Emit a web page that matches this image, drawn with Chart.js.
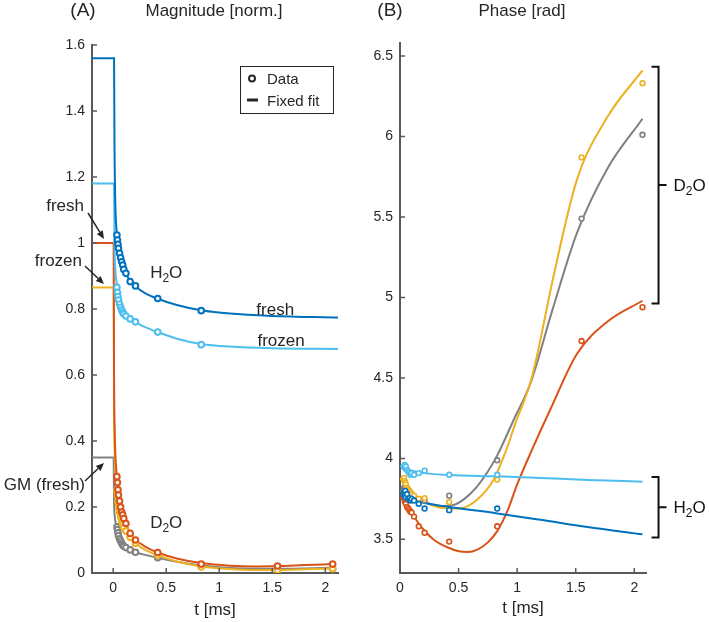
<!DOCTYPE html>
<html>
<head>
<meta charset="utf-8">
<script src="https://cdn.jsdelivr.net/npm/chart.js@4/dist/chart.umd.min.js"></script>
<style>
body { margin: 0; background: #fff; }
#wrap { position: relative; width: 709px; height: 622px; }
canvas { position: absolute; top: 0; }
</style>
</head>
<body>
<div id="wrap">
  <canvas id="magChart" width="355" height="622" style="left:0"></canvas>
  <canvas id="phaseChart" width="354" height="622" style="left:355px"></canvas>
</div>
<script>
// tick labels
const magTicks = [0, 0.2, 0.4, 0.6, 0.8, 1, 1.2, 1.4, 1.6];
const phaseTicks = [3.5, 4, 4.5, 5, 5.5, 6, 6.5];
const timeTicks = [0, 0.5, 1, 1.5, 2];

// measurement times [ms] (H2O data stops at 0.83)
const tData = [0.035, 0.04, 0.045, 0.05, 0.06, 0.07, 0.08, 0.09, 0.1, 0.12, 0.16, 0.21, 0.42, 0.83, 1.55, 2.07];

// magnitude data
const magFreshH2O  = [1.024, 1.009, 0.996, 0.984, 0.969, 0.955, 0.943, 0.933, 0.920, 0.908, 0.883, 0.870, 0.832, 0.795];
const magFrozenH2O = [0.866, 0.850, 0.838, 0.827, 0.815, 0.805, 0.797, 0.790, 0.785, 0.779, 0.770, 0.761, 0.730, 0.692];
const magFreshD2O  = [0.292, 0.274, 0.252, 0.236, 0.218, 0.200, 0.185, 0.176, 0.165, 0.150, 0.120, 0.100, 0.062, 0.027, 0.021, 0.027];
const magFrozenD2O = [0.250, 0.235, 0.215, 0.200, 0.185, 0.170, 0.158, 0.148, 0.138, 0.127, 0.108, 0.090, 0.054, 0.018, 0.008, 0.013];
const magGM        = [0.140, 0.132, 0.122, 0.113, 0.104, 0.097, 0.090, 0.085, 0.081, 0.077, 0.070, 0.063, 0.046, 0.022, 0.013, 0.013];

// magnitude fits (step before t=0)
const fitH2OT = [-0.2, 0.008, 0.012, 0.02, 0.03, 0.04, 0.05, 0.065, 0.085, 0.105, 0.13, 0.16, 0.21, 0.3, 0.42, 0.6, 0.83, 1.1, 1.5, 2.12];
const fitMagFreshH2O  = [1.56, 1.56, 1.3, 1.12, 1.045, 1.015, 0.993, 0.967, 0.943, 0.922, 0.902, 0.884, 0.868, 0.848, 0.831, 0.812, 0.796, 0.786, 0.779, 0.774];
const fitMagFrozenH2O = [1.18, 1.18, 1.0, 0.92, 0.885, 0.862, 0.842, 0.82, 0.8, 0.788, 0.778, 0.769, 0.760, 0.745, 0.730, 0.710, 0.694, 0.686, 0.681, 0.679];
const fitD2OT = [-0.2, 0.004, 0.008, 0.015, 0.025, 0.035, 0.045, 0.06, 0.08, 0.1, 0.13, 0.16, 0.21, 0.3, 0.42, 0.6, 0.83, 1.1, 1.35, 1.55, 1.8, 2.07];
const fitMagFreshD2O  = [1.0, 1.0, 0.6, 0.42, 0.33, 0.295, 0.272, 0.235, 0.192, 0.168, 0.142, 0.122, 0.101, 0.08, 0.062, 0.044, 0.03, 0.022, 0.02, 0.021, 0.024, 0.027];
const fitMagFrozenD2O = [0.865, 0.865, 0.5, 0.35, 0.28, 0.255, 0.233, 0.2, 0.165, 0.142, 0.121, 0.107, 0.09, 0.07, 0.054, 0.035, 0.02, 0.012, 0.009, 0.009, 0.011, 0.014];
const fitMagGM        = [0.35, 0.35, 0.22, 0.17, 0.15, 0.14, 0.13, 0.113, 0.097, 0.086, 0.077, 0.07, 0.063, 0.055, 0.046, 0.034, 0.023, 0.015, 0.013, 0.013, 0.014, 0.016];

// phase data
const phFreshH2O  = [3.79, 3.77, 3.80, 3.76, 3.78, 3.75, 3.755, 3.74, 3.75, 3.74, 3.72, 3.69, 3.68, 3.69];
const phFrozenH2O = [3.95, 3.96, 3.94, 3.95, 3.93, 3.92, 3.91, 3.90, 3.91, 3.90, 3.91, 3.925, 3.90, 3.90];
const phFreshD2O  = [3.76, 3.74, 3.73, 3.72, 3.70, 3.69, 3.68, 3.67, 3.665, 3.64, 3.58, 3.54, 3.485, 3.58, 4.73, 4.94];
const phFrozenD2O = [3.88, 3.86, 3.85, 3.84, 3.82, 3.81, 3.80, 3.79, 3.78, 3.77, 3.75, 3.755, 3.73, 3.87, 5.87, 6.33];
const phGM        = [3.82, 3.81, 3.80, 3.80, 3.79, 3.78, 3.78, 3.77, 3.77, 3.76, 3.75, 3.74, 3.77, 3.99, 5.49, 6.01];

// phase fits
const fitPhH2OT = [0, 0.1, 0.21, 0.42, 0.83, 1.2, 1.6, 2.07];
const fitPhFreshH2O  = [3.77, 3.745, 3.725, 3.70, 3.66, 3.62, 3.575, 3.53];
const fitPhFrozenH2O = [3.955, 3.925, 3.91, 3.898, 3.89, 3.88, 3.868, 3.857];
const fitPhRedT = [0, 0.1, 0.2, 0.3, 0.42, 0.5, 0.58, 0.66, 0.75, 0.83, 0.92, 1.0, 1.13, 1.28, 1.51, 1.77, 2.07];
const fitPhFreshD2O = [3.77, 3.66, 3.56, 3.49, 3.445, 3.425, 3.42, 3.435, 3.48, 3.55, 3.68, 3.84, 4.06, 4.3, 4.65, 4.85, 4.98];
const fitPhYellowT = [0, 0.1, 0.21, 0.35, 0.5, 0.65, 0.8, 0.9, 1.0, 1.06, 1.12, 1.17, 1.31, 1.51, 1.77, 2.07];
const fitPhFrozenD2O = [3.88, 3.78, 3.73, 3.695, 3.69, 3.74, 3.87, 4.04, 4.25, 4.36, 4.49, 4.64, 5.13, 5.73, 6.12, 6.41];
const fitPhGrayT = [0, 0.1, 0.21, 0.35, 0.45, 0.55, 0.65, 0.75, 0.83, 0.97, 1.115, 1.3, 1.51, 1.77, 2.07];
const fitPhGM = [3.80, 3.765, 3.73, 3.705, 3.71, 3.75, 3.82, 3.92, 4.02, 4.24, 4.47, 4.92, 5.40, 5.80, 6.11];

const BLUE = '#0072BD', LIGHT = '#4DBEEE', RED = '#D95319', YELLOW = '#EDB120', GRAY = '#808080';
const AXIS = '#595959', TEXT = '#262626';
const FONT = '"Liberation Sans", Arial, sans-serif';

Chart.defaults.font.family = FONT;

function pairs(xs, ys) {
    return ys.map((y, i) => ({ x: xs[i], y: y }));
}

function dots(label, ys, color, r, bw) {
    return {
        label: label,
        data: pairs(tData, ys),
        showLine: false,
        borderColor: color,
        backgroundColor: '#fff',
        pointRadius: r,
        pointBorderWidth: bw,
        pointHoverRadius: r
    };
}

function fit(label, xs, ys, color) {
    return {
        label: label,
        data: pairs(xs, ys),
        borderColor: color,
        borderWidth: 2,
        pointRadius: 0,
        fill: false,
        cubicInterpolationMode: 'monotone'
    };
}

function scaleOpts(min, max, ticks, size) {
    return {
        type: 'linear',
        min: min,
        max: max,
        grid: { display: false, drawTicks: false },
        border: { display: true, color: AXIS, width: 2 },
        ticks: { color: TEXT, font: { size: 14 }, padding: 7, callback: v => String(v) },
        afterBuildTicks: s => { s.ticks = ticks.map(v => ({ value: v })); },
        afterFit: s => { if (s.isHorizontal()) s.height = size; else s.width = size; }
    };
}

function inwardTicks(ctx, x, y, xt, yt) {
    ctx.strokeStyle = AXIS;
    ctx.lineWidth = 1.5;
    ctx.beginPath();
    xt.forEach(v => {
        const px = x.getPixelForValue(v);
        ctx.moveTo(px, y.bottom);
        ctx.lineTo(px, y.bottom - 5);
    });
    yt.forEach(v => {
        const py = y.getPixelForValue(v);
        ctx.moveTo(x.left, py);
        ctx.lineTo(x.left + 5, py);
    });
    ctx.stroke();
}

// text like H2O with a subscript digit
function chem(ctx, a, sub, b, x, y, align) {
    const big = '17px ' + FONT, small = '12px ' + FONT;
    ctx.font = big;
    const wa = ctx.measureText(a).width, wb = ctx.measureText(b).width;
    ctx.font = small;
    const ws = ctx.measureText(sub).width;
    const x0 = align === 'center' ? x - (wa + ws + wb) / 2 : x;
    ctx.textAlign = 'left';
    ctx.textBaseline = 'alphabetic';
    ctx.font = big;
    ctx.fillText(a, x0, y);
    ctx.font = small;
    ctx.fillText(sub, x0 + wa, y + 4);
    ctx.font = big;
    ctx.fillText(b, x0 + wa + ws, y);
}

function arrow(ctx, x1, y1, x2, y2) {
    const a = Math.atan2(y2 - y1, x2 - x1), L = 8, W = 3.5;
    const c = Math.cos(a), s = Math.sin(a);
    ctx.lineWidth = 1.5;
    ctx.beginPath();
    ctx.moveTo(x1, y1);
    ctx.lineTo(x2 - L * c, y2 - L * s);
    ctx.stroke();
    ctx.beginPath();
    ctx.moveTo(x2, y2);
    ctx.lineTo(x2 - L * c + W * s, y2 - L * s - W * c);
    ctx.lineTo(x2 - L * c - W * s, y2 - L * s + W * c);
    ctx.closePath();
    ctx.fill();
}

const magNotes = {
    id: 'magNotes',
    afterDraw(chart) {
        const { ctx, scales: { x, y } } = chart;
        ctx.save();
        inwardTicks(ctx, x, y, timeTicks, magTicks);

        ctx.fillStyle = TEXT;
        ctx.strokeStyle = TEXT;
        ctx.textBaseline = 'alphabetic';
        ctx.textAlign = 'center';
        ctx.font = '19px ' + FONT;
        ctx.fillText('(A)', 83, 16);
        ctx.font = '17px ' + FONT;
        ctx.fillText('Magnitude [norm.]', 214, 16);
        ctx.fillText('t [ms]', (x.left + x.right) / 2, 615);

        // legend
        ctx.lineWidth = 1;
        ctx.fillStyle = '#fff';
        ctx.fillRect(240, 66, 93, 47);
        ctx.strokeRect(240.5, 66.5, 93, 47);
        ctx.fillStyle = TEXT;
        ctx.lineWidth = 2;
        ctx.beginPath();
        ctx.arc(252, 78.5, 3, 0, Math.PI * 2);
        ctx.stroke();
        ctx.lineWidth = 3;
        ctx.beginPath();
        ctx.moveTo(247, 100);
        ctx.lineTo(258, 100);
        ctx.stroke();
        ctx.textAlign = 'left';
        ctx.font = '15px ' + FONT;
        ctx.fillText('Data', 267, 84);
        ctx.fillText('Fixed fit', 267, 105.5);

        // labels with arrows
        ctx.font = '17px ' + FONT;
        ctx.textAlign = 'right';
        ctx.fillText('fresh', 84, 211);
        ctx.fillText('frozen', 82, 266);
        ctx.fillText('GM (fresh)', 85, 490);
        arrow(ctx, 88, 213, 104, 239);
        arrow(ctx, 85, 266, 104, 284);
        arrow(ctx, 85, 481, 104, 463);

        ctx.textAlign = 'left';
        ctx.fillText('fresh', x.getPixelForValue(1.35), y.getPixelForValue(0.79) + 3);
        ctx.fillText('frozen', x.getPixelForValue(1.36), y.getPixelForValue(0.70) + 4);
        chem(ctx, 'H', '2', 'O', x.getPixelForValue(0.5), y.getPixelForValue(0.895), 'center');
        chem(ctx, 'D', '2', 'O', x.getPixelForValue(0.5), y.getPixelForValue(0.137), 'center');
        ctx.restore();
    }
};

function bracket(ctx, x, y, t, v1, v2, a, sub, b) {
    const px = x.getPixelForValue(t);
    const top = y.getPixelForValue(v1), bot = y.getPixelForValue(v2);
    const mid = (top + bot) / 2;
    ctx.lineWidth = 2;
    ctx.beginPath();
    ctx.moveTo(px - 7, top);
    ctx.lineTo(px, top);
    ctx.lineTo(px, bot);
    ctx.lineTo(px - 7, bot);
    ctx.moveTo(px, mid);
    ctx.lineTo(px + 8, mid);
    ctx.stroke();
    chem(ctx, a, sub, b, px + 15, mid + 6, 'left');
}

const phaseNotes = {
    id: 'phaseNotes',
    afterDraw(chart) {
        const { ctx, scales: { x, y } } = chart;
        ctx.save();
        inwardTicks(ctx, x, y, timeTicks, phaseTicks);
        ctx.fillStyle = TEXT;
        ctx.strokeStyle = TEXT;
        ctx.textBaseline = 'alphabetic';
        ctx.textAlign = 'center';
        ctx.font = '19px ' + FONT;
        ctx.fillText('(B)', 35, 16);
        ctx.font = '17px ' + FONT;
        ctx.fillText('Phase [rad]', 167, 16);
        ctx.fillText('t [ms]', (x.left + x.right) / 2, 613);
        ctx.strokeStyle = '#111';
        ctx.fillStyle = '#111';
        bracket(ctx, x, y, 2.207, 6.433, 4.963, 'D', '2', 'O');
        bracket(ctx, x, y, 2.207, 3.886, 3.51, 'H', '2', 'O');
        ctx.restore();
    }
};

const common = {
    responsive: false,
    animation: false,
    devicePixelRatio: 1,
    plugins: { legend: { display: false }, tooltip: { enabled: false } }
};

new Chart(document.getElementById('magChart'), {
    type: 'line',
    data: {
        datasets: [
            dots('H2O fresh data', magFreshH2O, BLUE, 2.8, 2),
            dots('H2O frozen data', magFrozenH2O, LIGHT, 2.8, 2),
            dots('D2O fresh data', magFreshD2O, RED, 2.8, 2),
            dots('D2O frozen data', magFrozenD2O, YELLOW, 2.8, 2),
            dots('GM fresh data', magGM, GRAY, 2.8, 2),
            fit('H2O fresh fit', fitH2OT, fitMagFreshH2O, BLUE),
            fit('H2O frozen fit', fitH2OT, fitMagFrozenH2O, LIGHT),
            fit('D2O fresh fit', fitD2OT, fitMagFreshD2O, RED),
            fit('D2O frozen fit', fitD2OT, fitMagFrozenD2O, YELLOW),
            fit('GM fresh fit', fitD2OT, fitMagGM, GRAY)
        ]
    },
    options: Object.assign({}, common, {
        layout: { padding: { left: 0, right: 17, top: 45, bottom: 0 } },
        scales: {
            x: scaleOpts(-0.2, 2.12, timeTicks, 49),
            y: scaleOpts(0, 1.6, magTicks, 92)
        }
    }),
    plugins: [magNotes]
});

new Chart(document.getElementById('phaseChart'), {
    type: 'line',
    data: {
        datasets: [
            dots('H2O fresh data', phFreshH2O, BLUE, 2.4, 1.6),
            dots('H2O frozen data', phFrozenH2O, LIGHT, 2.4, 1.6),
            dots('D2O fresh data', phFreshD2O, RED, 2.4, 1.6),
            dots('D2O frozen data', phFrozenD2O, YELLOW, 2.4, 1.6),
            dots('GM fresh data', phGM, GRAY, 2.4, 1.6),
            fit('H2O fresh fit', fitPhH2OT, fitPhFreshH2O, BLUE),
            fit('H2O frozen fit', fitPhH2OT, fitPhFrozenH2O, LIGHT),
            fit('D2O fresh fit', fitPhRedT, fitPhFreshD2O, RED),
            fit('D2O frozen fit', fitPhYellowT, fitPhFrozenD2O, YELLOW),
            fit('GM fresh fit', fitPhGrayT, fitPhGM, GRAY)
        ]
    },
    options: Object.assign({}, common, {
        layout: { padding: { left: 0, right: 63, top: 43, bottom: 0 } },
        scales: {
            x: scaleOpts(0, 2.1, timeTicks, 49),
            y: scaleOpts(3.29, 6.58, phaseTicks, 45)
        }
    }),
    plugins: [phaseNotes]
});
</script>
</body>
</html>
